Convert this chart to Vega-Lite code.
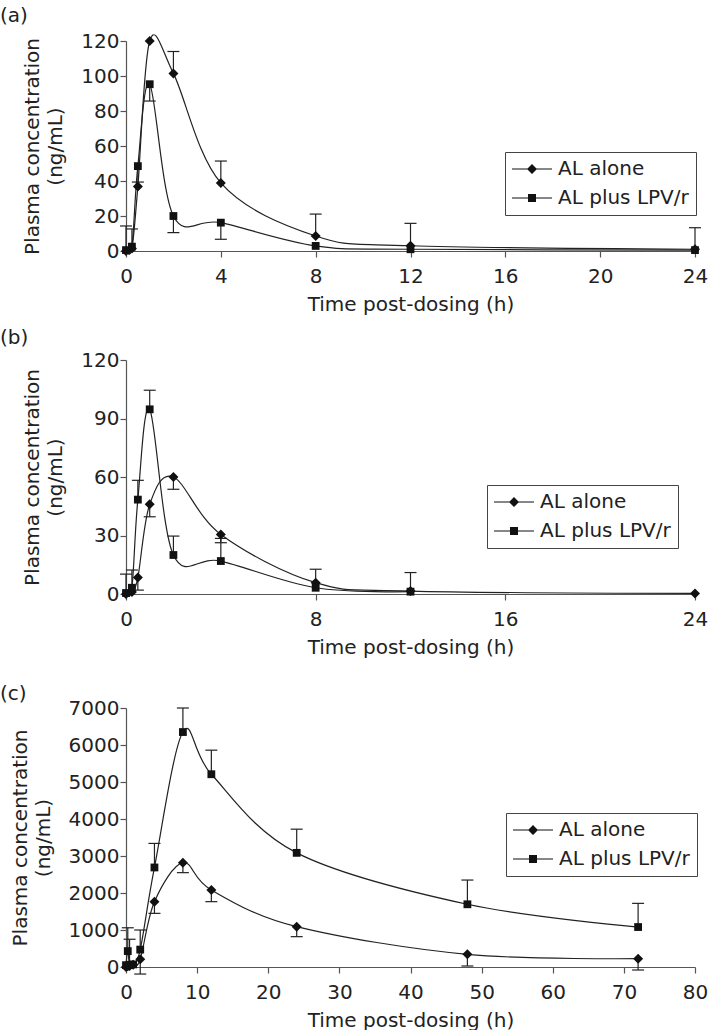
{
  "$schema": "https://vega.github.io/schema/vega-lite/v6.json",
  "padding": {"left": 0, "top": 6, "right": 0, "bottom": 0},
  "background": "white",
  "spacing": 14,
  "config": {
    "font": "DejaVu Sans",
    "view": {"stroke": null},
    "axis": {
      "grid": false, "domainColor": "#555", "tickColor": "#555", "domainWidth": 1.2, "tickWidth": 1.2,
      "labelColor": "#222", "titleColor": "#222", "labelFontSize": 20, "titleFontSize": 20,
      "titleFontWeight": "normal", "tickSize": 6
    },
    "axisX": {"labelPadding": 9, "titlePadding": 8, "labelFlush": false},
    "axisY": {"labelPadding": 1, "titlePadding": 15, "titleLineHeight": 23},
    "title": {"fontSize": 20, "fontWeight": "normal", "color": "#222", "anchor": "start", "dx": -126, "frame": "group"},
    "legend": {
      "orient": "none", "title": null, "strokeColor": "#444", "padding": 7, "labelFontSize": 20,
      "labelColor": "#222", "labelOffset": 16, "rowPadding": 9, "symbolSize": 400, "symbolStrokeWidth": 0,
      "symbolFillColor": "#111", "symbolOffset": 10
    }
  },
  "datasets": {
    "a": [
      {"s": "AL alone", "t": 0, "c": 0, "e": null},
      {"s": "AL alone", "t": 0.25, "c": 1.5, "e": 12.6},
      {"s": "AL alone", "t": 0.5, "c": 36.8, "e": null},
      {"s": "AL alone", "t": 1, "c": 120, "e": null},
      {"s": "AL alone", "t": 2, "c": 101.5, "e": 114},
      {"s": "AL alone", "t": 4, "c": 38.9, "e": 51.4},
      {"s": "AL alone", "t": 8, "c": 8.6, "e": 21.1},
      {"s": "AL alone", "t": 12, "c": 3, "e": 15.8},
      {"s": "AL alone", "t": 24, "c": 1, "e": 13.3},
      {"s": "AL plus LPV/r", "t": 0, "c": 0.5, "e": 14.3},
      {"s": "AL plus LPV/r", "t": 0.25, "c": 2.5, "e": null},
      {"s": "AL plus LPV/r", "t": 0.5, "c": 48.5, "e": 39.4},
      {"s": "AL plus LPV/r", "t": 1, "c": 95.3, "e": 85.7},
      {"s": "AL plus LPV/r", "t": 2, "c": 20, "e": 10.5},
      {"s": "AL plus LPV/r", "t": 4, "c": 16.2, "e": 6.7},
      {"s": "AL plus LPV/r", "t": 8, "c": 2.9, "e": null},
      {"s": "AL plus LPV/r", "t": 12, "c": 1, "e": null},
      {"s": "AL plus LPV/r", "t": 24, "c": 0.5, "e": null}
    ],
    "b": [
      {"s": "AL alone", "t": 0, "c": 0, "e": null},
      {"s": "AL alone", "t": 0.25, "c": 1, "e": null},
      {"s": "AL alone", "t": 0.5, "c": 8.4, "e": 2},
      {"s": "AL alone", "t": 1, "c": 46, "e": 39.6},
      {"s": "AL alone", "t": 2, "c": 60, "e": 53.7},
      {"s": "AL alone", "t": 4, "c": 30.5, "e": 26.3},
      {"s": "AL alone", "t": 8, "c": 5.8, "e": null},
      {"s": "AL alone", "t": 12, "c": 1.5, "e": null},
      {"s": "AL alone", "t": 24, "c": 0.3, "e": null},
      {"s": "AL plus LPV/r", "t": 0, "c": 0.5, "e": 10.2},
      {"s": "AL plus LPV/r", "t": 0.25, "c": 3.2, "e": 12.3},
      {"s": "AL plus LPV/r", "t": 0.5, "c": 48.4, "e": 58.3},
      {"s": "AL plus LPV/r", "t": 1, "c": 94.7, "e": 104.5},
      {"s": "AL plus LPV/r", "t": 2, "c": 20, "e": 29.7},
      {"s": "AL plus LPV/r", "t": 4, "c": 16.9, "e": 28.5},
      {"s": "AL plus LPV/r", "t": 8, "c": 3.2, "e": 12.7},
      {"s": "AL plus LPV/r", "t": 12, "c": 1.2, "e": 11}
    ],
    "c": [
      {"s": "AL alone", "t": 0, "c": 0, "e": null},
      {"s": "AL alone", "t": 0.25, "c": 20, "e": null},
      {"s": "AL alone", "t": 0.5, "c": 30, "e": null},
      {"s": "AL alone", "t": 1, "c": 60, "e": null},
      {"s": "AL alone", "t": 2, "c": 210, "e": -190},
      {"s": "AL alone", "t": 4, "c": 1766, "e": 1450},
      {"s": "AL alone", "t": 8, "c": 2820, "e": 2550},
      {"s": "AL alone", "t": 12, "c": 2081, "e": 1766},
      {"s": "AL alone", "t": 24, "c": 1090, "e": 820},
      {"s": "AL alone", "t": 48, "c": 342, "e": 27},
      {"s": "AL alone", "t": 72, "c": 225, "e": -81},
      {"s": "AL plus LPV/r", "t": 0, "c": 50, "e": null},
      {"s": "AL plus LPV/r", "t": 0.25, "c": 430, "e": 1060},
      {"s": "AL plus LPV/r", "t": 0.5, "c": 60, "e": 750},
      {"s": "AL plus LPV/r", "t": 1, "c": 70, "e": null},
      {"s": "AL plus LPV/r", "t": 2, "c": 470, "e": 1000},
      {"s": "AL plus LPV/r", "t": 4, "c": 2690, "e": 3340},
      {"s": "AL plus LPV/r", "t": 8, "c": 6350, "e": 7000},
      {"s": "AL plus LPV/r", "t": 12, "c": 5210, "e": 5860},
      {"s": "AL plus LPV/r", "t": 24, "c": 3085, "e": 3725},
      {"s": "AL plus LPV/r", "t": 48, "c": 1695, "e": 2350},
      {"s": "AL plus LPV/r", "t": 72, "c": 1080, "e": 1720}
    ]
  },
  "vconcat": [
    {
      "width": 569, "height": 210,
      "title": {"text": "(a)", "offset": 5},
      "data": {"name": "a"},
      "encoding": {
        "x": {"field": "t", "type": "quantitative", "scale": {"domain": [0, 24], "nice": false}, "axis": {"values": [0, 4, 8, 12, 16, 20, 24], "title": "Time post-dosing (h)"}},
        "y": {"field": "c", "type": "quantitative", "scale": {"domain": [0, 120], "nice": false}, "axis": {"values": [0, 20, 40, 60, 80, 100, 120], "title": ["Plasma concentration", "(ng/mL)"]}}
      },
      "layer": [
        {"mark": {"type": "line", "interpolate": "cardinal", "color": "#222", "strokeWidth": 1.2}, "encoding": {"detail": {"field": "s"}}},
        {"transform": [{"filter": "datum.e != null"}], "mark": {"type": "rule", "color": "#222", "strokeWidth": 1.2}, "encoding": {"y2": {"field": "e"}}},
        {"transform": [{"filter": "datum.e != null"}], "mark": {"type": "point", "shape": "M-1,0H1", "size": 144, "filled": false, "color": "#222", "strokeWidth": 1.2, "opacity": 1}, "encoding": {"y": {"field": "e", "type": "quantitative"}}},
        {"mark": {"type": "point", "filled": true, "color": "#111", "opacity": 1, "size": 100},
         "encoding": {"shape": {"field": "s", "type": "nominal", "legend": null,
           "scale": {"domain": ["AL alone", "AL plus LPV/r"], "range": ["M-1,0L0,-1L1,0L0,1Z", "M-0.78,-0.78H0.78V0.78H-0.78Z"]}}}},
        {"transform": [{"filter": "datum.t < 0"}],
         "mark": {"type": "point", "filled": true, "color": "#111", "opacity": 1},
         "encoding": {"shape": {"field": "s", "type": "nominal",
           "scale": {"domain": ["AL alone", "AL plus LPV/r"], "range": ["M-2,-0.06H2V0.06H-2ZM-0.5,0L0,-0.5L0.5,0L0,0.5Z", "M-2,-0.06H2V0.06H-2ZM-0.4,-0.4H0.4V0.4H-0.4Z"]},
           "legend": {"legendX": 379, "legendY": 111}}}}
      ],
      "resolve": {"scale": {"shape": "independent"}, "legend": {"shape": "independent"}}
    },
    {
      "vconcat": [
        {
          "width": 569, "height": 234,
          "title": {"text": "(b)", "offset": 2},
          "data": {"name": "b"},
          "encoding": {
            "x": {"field": "t", "type": "quantitative", "scale": {"domain": [0, 24], "nice": false}, "axis": {"values": [0, 8, 16, 24], "title": "Time post-dosing (h)"}},
            "y": {"field": "c", "type": "quantitative", "scale": {"domain": [0, 120], "nice": false}, "axis": {"values": [0, 30, 60, 90, 120], "title": ["Plasma concentration", "(ng/mL)"]}}
          },
          "layer": [
            {"mark": {"type": "line", "interpolate": "cardinal", "color": "#222", "strokeWidth": 1.2}, "encoding": {"detail": {"field": "s"}}},
            {"transform": [{"filter": "datum.e != null"}], "mark": {"type": "rule", "color": "#222", "strokeWidth": 1.2}, "encoding": {"y2": {"field": "e"}}},
            {"transform": [{"filter": "datum.e != null"}], "mark": {"type": "point", "shape": "M-1,0H1", "size": 144, "filled": false, "color": "#222", "strokeWidth": 1.2, "opacity": 1}, "encoding": {"y": {"field": "e", "type": "quantitative"}}},
            {"mark": {"type": "point", "filled": true, "color": "#111", "opacity": 1, "size": 100},
             "encoding": {"shape": {"field": "s", "type": "nominal", "legend": null,
               "scale": {"domain": ["AL alone", "AL plus LPV/r"], "range": ["M-1,0L0,-1L1,0L0,1Z", "M-0.78,-0.78H0.78V0.78H-0.78Z"]}}}},
            {"transform": [{"filter": "datum.t < 0"}],
             "mark": {"type": "point", "filled": true, "color": "#111", "opacity": 1},
             "encoding": {"shape": {"field": "s", "type": "nominal",
               "scale": {"domain": ["AL alone", "AL plus LPV/r"], "range": ["M-2,-0.06H2V0.06H-2ZM-0.5,0L0,-0.5L0.5,0L0,0.5Z", "M-2,-0.06H2V0.06H-2ZM-0.4,-0.4H0.4V0.4H-0.4Z"]},
               "legend": {"legendX": 361, "legendY": 125}}}}
          ],
          "resolve": {"scale": {"shape": "independent"}, "legend": {"shape": "independent"}}
        },
        {
          "width": 569, "height": 259,
          "title": {"text": "(c)", "offset": -6},
          "data": {"name": "c"},
          "encoding": {
            "x": {"field": "t", "type": "quantitative", "scale": {"domain": [0, 80], "nice": false}, "axis": {"values": [0, 10, 20, 30, 40, 50, 60, 70, 80], "title": "Time post-dosing (h)"}},
            "y": {"field": "c", "type": "quantitative", "scale": {"domain": [0, 7000], "nice": false}, "axis": {"values": [0, 1000, 2000, 3000, 4000, 5000, 6000, 7000], "format": "d", "title": ["Plasma concentration", "(ng/mL)"]}}
          },
          "layer": [
            {"mark": {"type": "line", "interpolate": "cardinal", "color": "#222", "strokeWidth": 1.2}, "encoding": {"detail": {"field": "s"}}},
            {"transform": [{"filter": "datum.e != null"}], "mark": {"type": "rule", "color": "#222", "strokeWidth": 1.2}, "encoding": {"y2": {"field": "e"}}},
            {"transform": [{"filter": "datum.e != null"}], "mark": {"type": "point", "shape": "M-1,0H1", "size": 144, "filled": false, "color": "#222", "strokeWidth": 1.2, "opacity": 1}, "encoding": {"y": {"field": "e", "type": "quantitative"}}},
            {"mark": {"type": "point", "filled": true, "color": "#111", "opacity": 1, "size": 100},
             "encoding": {"shape": {"field": "s", "type": "nominal", "legend": null,
               "scale": {"domain": ["AL alone", "AL plus LPV/r"], "range": ["M-1,0L0,-1L1,0L0,1Z", "M-0.78,-0.78H0.78V0.78H-0.78Z"]}}}},
            {"transform": [{"filter": "datum.t < 0"}],
             "mark": {"type": "point", "filled": true, "color": "#111", "opacity": 1},
             "encoding": {"shape": {"field": "s", "type": "nominal",
               "scale": {"domain": ["AL alone", "AL plus LPV/r"], "range": ["M-2,-0.06H2V0.06H-2ZM-0.5,0L0,-0.5L0.5,0L0,0.5Z", "M-2,-0.06H2V0.06H-2ZM-0.4,-0.4H0.4V0.4H-0.4Z"]},
               "legend": {"legendX": 380, "legendY": 105}}}}
          ],
          "resolve": {"scale": {"shape": "independent"}, "legend": {"shape": "independent"}}
        }
      ],
      "spacing": 27
    }
  ]
}
